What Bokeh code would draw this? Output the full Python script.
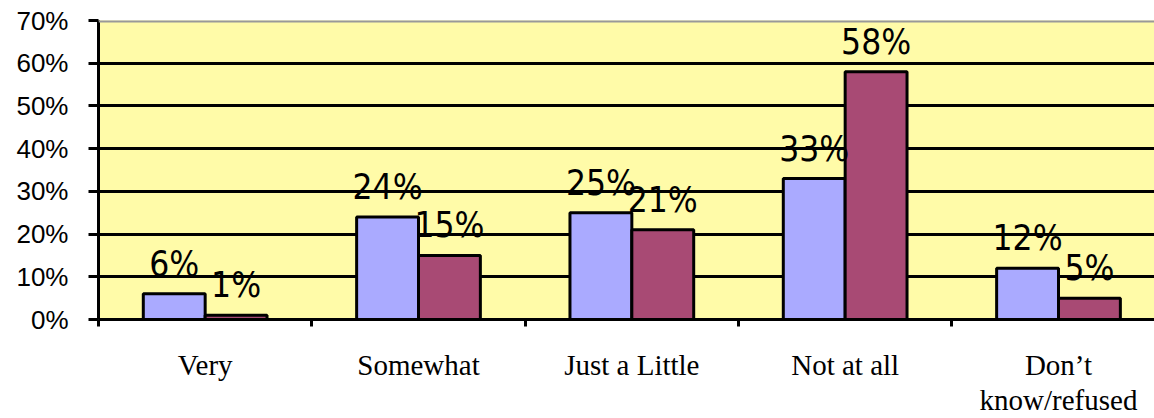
from bokeh.plotting import figure
from bokeh.models import ColumnDataSource, FixedTicker, NumeralTickFormatter, Range1d, Span
from bokeh.core.properties import value
from bokeh.embed import file_html
from bokeh.resources import INLINE

categories = ["Very", "Somewhat", "Just a Little", "Not at all", "Don\u2019t\nknow/refused"]
series_a = [6, 24, 25, 33, 12]
series_b = [1, 15, 21, 58, 5]
y_ticks = [0, 10, 20, 30, 40, 50, 60, 70]

BLUE = "#AAAAFF"
RED = "#A84A74"
BG = "#FFFBA8"

centers = [i + 0.5 for i in range(len(categories))]
bw = 0.29
src_a = ColumnDataSource(dict(x=[c - bw / 2 for c in centers], top=[v / 100 for v in series_a],
                              lab=[f"{v}%" for v in series_a]))
src_b = ColumnDataSource(dict(x=[c + bw / 2 for c in centers], top=[v / 100 for v in series_b],
                              lab=[f"{v}%" for v in series_b]))

p = figure(width=1154, height=418, output_backend="svg", toolbar_location=None,
           x_range=Range1d(0, 4.95), y_range=Range1d(0, 0.7),
           min_border_left=98, min_border_right=0, min_border_top=20, min_border_bottom=97)
p.background_fill_color = BG
p.border_fill_color = "white"
p.outline_line_color = None

p.vbar(x="x", top="top", width=bw, source=src_a, fill_color=BLUE, line_color="black", line_width=3)
p.vbar(x="x", top="top", width=bw, source=src_b, fill_color=RED, line_color="black", line_width=3)

for src in (src_a, src_b):
    p.text(x="x", y="top", text="lab", source=src, text_align="center", text_baseline="alphabetic",
           y_offset=-30, text_font=value("DejaVu Sans Condensed"), text_font_size="35px",
           text_color="black")

p.add_layout(Span(location=0.7, dimension="width", line_color="#999999", line_width=4))

# y axis
p.yaxis.ticker = FixedTicker(ticks=[t / 100 for t in y_ticks])
p.yaxis.formatter = NumeralTickFormatter(format="0%")
p.yaxis.axis_line_width = 3
p.yaxis.axis_line_color = "black"
p.yaxis.major_tick_line_width = 3
p.yaxis.major_tick_in = 0
p.yaxis.major_tick_out = 10
p.yaxis.minor_tick_line_color = None
p.yaxis.major_label_standoff = 20
p.yaxis.major_label_text_font = "Liberation Sans"
p.yaxis.major_label_text_font_size = "26px"
p.yaxis.major_label_text_color = "black"

p.ygrid.ticker = FixedTicker(ticks=[t / 100 for t in y_ticks])
p.ygrid.grid_line_color = "black"
p.ygrid.grid_line_width = 3
p.xgrid.grid_line_color = None

# x axis
p.xaxis.ticker = FixedTicker(ticks=centers, minor_ticks=[0, 1, 2, 3, 4])
p.xaxis.major_label_overrides = {c: lab for c, lab in zip(centers, categories)}
p.xaxis.major_tick_line_color = None
p.xaxis.major_tick_out = 0
p.xaxis.major_tick_in = 0
p.xaxis.minor_tick_line_color = "black"
p.xaxis.minor_tick_line_width = 3
p.xaxis.minor_tick_in = 0
p.xaxis.minor_tick_out = 7
p.xaxis.axis_line_width = 3
p.xaxis.axis_line_color = "black"
p.xaxis.major_label_standoff = 22
p.xaxis.major_label_text_font = "Liberation Serif"
p.xaxis.major_label_text_font_size = "29px"
p.xaxis.major_label_text_color = "black"
p.xaxis.major_label_text_line_height = 1.1

open("out.html", "w").write(file_html(p, INLINE))
